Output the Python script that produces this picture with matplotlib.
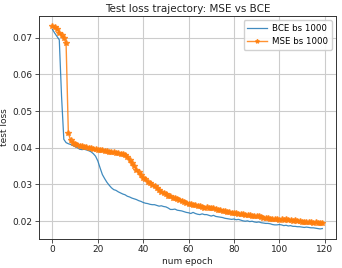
import matplotlib
matplotlib.use("Agg")
import matplotlib.pyplot as plt

epochs = list(range(120))

bce_loss = [
    0.0722, 0.0712, 0.0703, 0.0694, 0.0540, 0.0423, 0.0414, 0.0411, 0.0409, 0.0406,
    0.0403, 0.0400, 0.0396, 0.0395, 0.0396, 0.0394, 0.0392, 0.0389, 0.0384, 0.0377,
    0.0364, 0.0345, 0.0327, 0.0316, 0.0306, 0.0298, 0.0291, 0.0286, 0.0284, 0.0280,
    0.0277, 0.0274, 0.0272, 0.0268, 0.0266, 0.0263, 0.0261, 0.0259, 0.0256, 0.0254,
    0.0251, 0.0249, 0.0248, 0.0246, 0.0245, 0.0245, 0.0243, 0.0241, 0.0242, 0.0240,
    0.0239, 0.0236, 0.0232, 0.0232, 0.0233, 0.0230, 0.0229, 0.0228, 0.0226, 0.0224,
    0.0223, 0.0221, 0.0224, 0.0221, 0.0219, 0.0218, 0.0220, 0.0218, 0.0218, 0.0216,
    0.0214, 0.0216, 0.0213, 0.0212, 0.0211, 0.0210, 0.0208, 0.0207, 0.0206, 0.0205,
    0.0206, 0.0204, 0.0205, 0.0203, 0.0201, 0.0200, 0.0201, 0.0199, 0.0200, 0.0198,
    0.0197, 0.0198, 0.0196, 0.0195, 0.0194, 0.0194, 0.0193, 0.0191, 0.0190, 0.0190,
    0.0191, 0.0190, 0.0188, 0.0189, 0.0187, 0.0188, 0.0186, 0.0186, 0.0185, 0.0185,
    0.0184, 0.0183, 0.0184, 0.0183, 0.0182, 0.0182, 0.0181, 0.0180, 0.0179, 0.0180,
]

mse_loss = [
    0.0731, 0.0729, 0.0723, 0.0713, 0.0707, 0.0699, 0.0684, 0.0440, 0.0420, 0.0414,
    0.0411, 0.0407, 0.0406, 0.0404, 0.0403, 0.0401, 0.0399, 0.0400, 0.0397, 0.0397,
    0.0395, 0.0393, 0.0394, 0.0391, 0.0392, 0.0389, 0.0388, 0.0389, 0.0386, 0.0387,
    0.0384, 0.0383, 0.0380, 0.0376, 0.0368, 0.0358, 0.0350, 0.0340, 0.0333, 0.0325,
    0.0318, 0.0314, 0.0308, 0.0305, 0.0299, 0.0295, 0.0291, 0.0286, 0.0280, 0.0277,
    0.0274, 0.0270, 0.0268, 0.0264, 0.0262, 0.0260, 0.0258, 0.0255, 0.0253, 0.0250,
    0.0248, 0.0246, 0.0243, 0.0244, 0.0241, 0.0242, 0.0239, 0.0237, 0.0238, 0.0236,
    0.0235, 0.0236, 0.0233, 0.0231, 0.0230, 0.0229, 0.0227, 0.0226, 0.0225, 0.0223,
    0.0222, 0.0221, 0.0220, 0.0219, 0.0219, 0.0218, 0.0216, 0.0217, 0.0215, 0.0214,
    0.0214, 0.0213, 0.0211, 0.0210, 0.0209, 0.0208, 0.0207, 0.0207, 0.0206, 0.0205,
    0.0204, 0.0205, 0.0203, 0.0205, 0.0202, 0.0203, 0.0201, 0.0202, 0.0200, 0.0201,
    0.0199, 0.0198, 0.0199, 0.0197, 0.0198, 0.0196, 0.0197, 0.0195, 0.0196, 0.0195,
]

fig = plt.figure(figsize=(3.42, 2.68), dpi=100)
ax = fig.add_axes([0.114, 0.108, 0.868, 0.832])

ax.plot(epochs, bce_loss, color="#1f77b4", lw=0.9, alpha=0.85, label="BCE bs 1000")
ax.plot(epochs, mse_loss, color="#ff7f0e", lw=1.0, marker="*", markersize=4.2,
        alpha=0.85, label="MSE bs 1000")

ax.set_xticks([0, 20, 40, 60, 80, 100, 120])
ax.set_yticks([0.02, 0.03, 0.04, 0.05, 0.06, 0.07])
ax.grid(True, color="#cccccc", lw=0.8)
ax.set_axisbelow(True)
ax.tick_params(labelsize=6.5, length=3, width=0.6, pad=1.5,
               color="#333333", labelcolor="#222222")
for s in ax.spines.values():
    s.set_linewidth(0.7)
    s.set_color("#333333")

ax.set_xlabel("num epoch", fontsize=6.5, labelpad=2, color="#222222")
ax.set_ylabel("test loss", fontsize=6.5, labelpad=2.5, color="#222222")
ax.set_title("Test loss trajectory: MSE vs BCE", fontsize=7.5, pad=3, color="#222222")
ax.legend(loc="upper right", fontsize=6.2, framealpha=0.9, borderpad=0.4,
          handlelength=2.3, handletextpad=0.6, markerscale=0.7,
          edgecolor="#cccccc", fancybox=True)

fig.savefig("out.png", dpi=100)
